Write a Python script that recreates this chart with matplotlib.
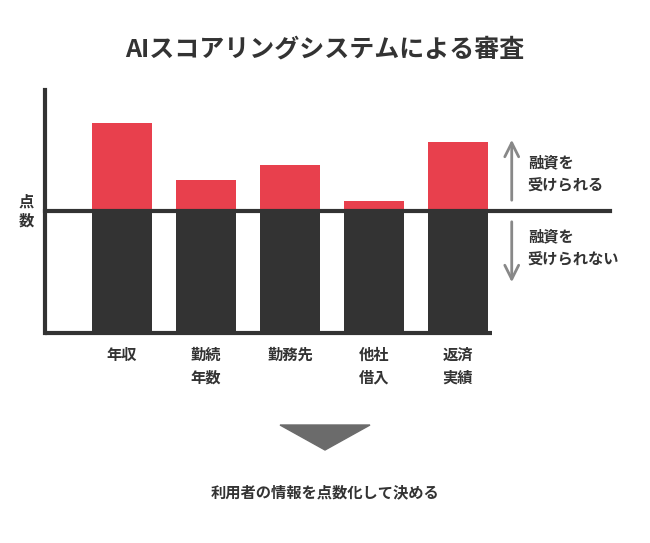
import matplotlib
matplotlib.use("Agg")
import matplotlib.pyplot as plt
from matplotlib.patches import Polygon

plt.rcParams["font.family"] = "Noto Sans CJK JP"

categories = ["年収", "勤続\n年数", "勤務先", "他社\n借入", "返済\n実績"]
scores = [210, 153, 168, 132, 191]
threshold = 122
title = "AIスコアリングシステムによる審査"

W, H = 650, 543
fig = plt.figure(figsize=(6.5, 5.43), dpi=100)
fig.patch.set_facecolor("white")
ax = fig.add_axes([45 / W, (H - 333) / H, (610 - 45) / W, (333 - 90) / H])
ax.set_xlim(-0.917, 5.81)
ax.set_ylim(0, 243)
for s in ["top", "right", "bottom"]:
    ax.spines[s].set_visible(False)
ax.spines["left"].set_linewidth(3)
ax.spines["left"].set_color("#333333")
ax.set_xticks([])
ax.set_yticks([])

x = list(range(len(categories)))
red = [s - threshold for s in scores]
ax.bar(x, [threshold] * len(x), width=0.714, color="#333333")
ax.bar(x, red, bottom=threshold, width=0.714, color="#e8404d")
ax.plot([-0.917, 5.81], [threshold, threshold], color="#333333", lw=3, clip_on=False)
ax.plot([-0.917, 4.4], [0, 0], color="#333333", lw=3, clip_on=False, solid_capstyle="butt")

for xi, c in zip(x, categories):
    ax.text(xi, -14, c, ha="center", va="top", fontsize=11, fontweight="bold",
            color="#333333", linespacing=1.5)

ax.text(-1.05, threshold, "点\n数", ha="right", va="center", fontsize=11,
        fontweight="bold", color="#333333", linespacing=1.2)

ax.annotate("", xy=(4.64, 196), xytext=(4.64, 130),
            arrowprops=dict(arrowstyle="->", color="#888888", lw=2, mutation_scale=25))
ax.annotate("", xy=(4.64, 48), xytext=(4.64, 114),
            arrowprops=dict(arrowstyle="->", color="#888888", lw=2, mutation_scale=25))
ax.text(4.83, 159, "融資を\n受けられる", ha="left", va="center", fontsize=11,
        fontweight="bold", color="#333333", linespacing=1.5)
ax.text(4.83, 85, "融資を\n受けられない", ha="left", va="center", fontsize=11,
        fontweight="bold", color="#333333", linespacing=1.5)

fig.text(325 / W, 1 - 50 / H, title, ha="center", va="center", fontsize=18,
         fontweight="bold", color="#333333")
tri = Polygon([[280 / W, 1 - 425 / H], [370 / W, 1 - 425 / H], [325 / W, 1 - 450 / H]],
              closed=True, transform=fig.transFigure, color="#6b6b6b")
fig.patches.append(tri)
fig.text(325 / W, 1 - 492 / H, "利用者の情報を点数化して決める", ha="center", va="center",
         fontsize=11, fontweight="bold", color="#333333")

fig.savefig("out.png", dpi=100)
